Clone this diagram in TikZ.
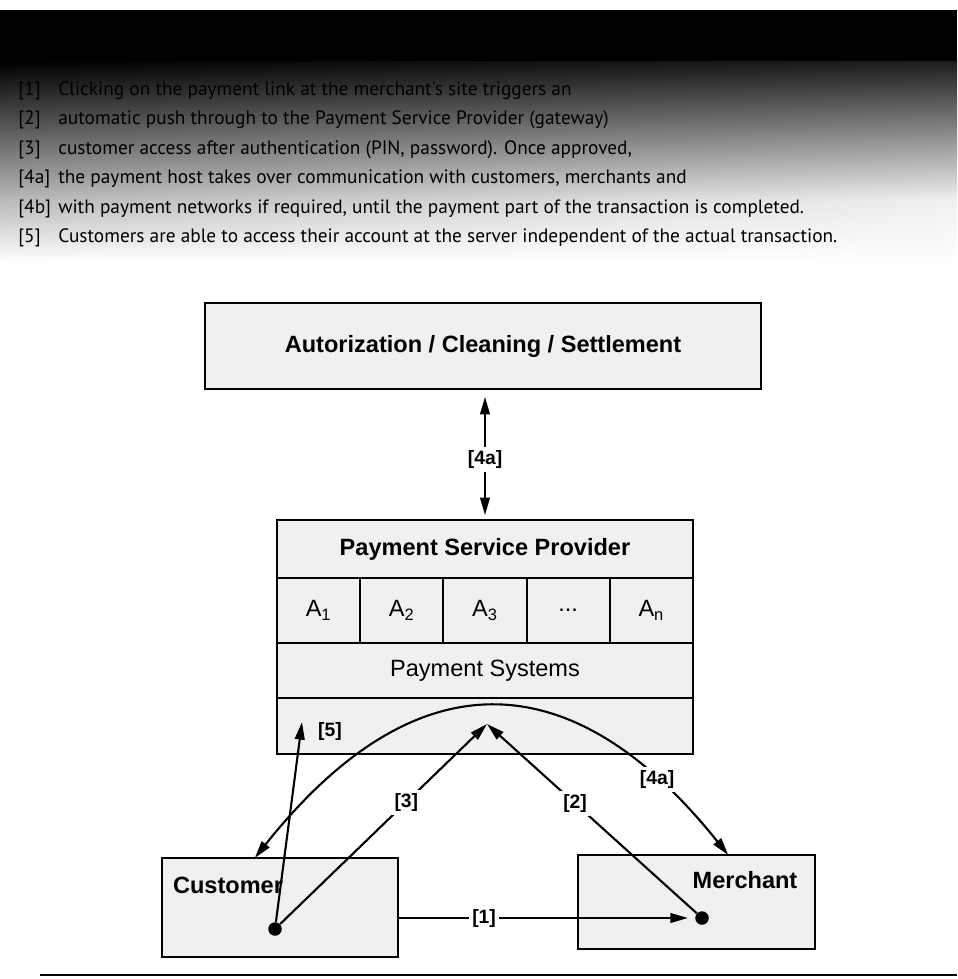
\documentclass[tikz,border=0pt]{standalone}
\usepackage{fontspec}
\setmainfont{Liberation Sans}
\newfontfamily\notefont{PT Sans}
\usetikzlibrary{positioning,arrows.meta,shadings}

\tikzset{
  panel/.style={draw, line width=1.1pt, fill=gray!12, inner sep=0pt, outer sep=0pt,
    font=\fontsize{13.4}{16}\selectfont},
  boldpanel/.style={panel, font=\bfseries\fontsize{13.4}{16}\selectfont},
  slot/.style={panel, minimum width=1.664cm, minimum height=1.3cm},
  lbl/.style={font=\bfseries\fontsize{11}{13}\selectfont, fill=white, inner sep=2pt},
  arr/.style={line width=1.2pt, ->},
  blob/.style={circle, fill=black, minimum size=0.27cm, inner sep=0pt},
  noteline/.style={font=\notefont\fontsize{11}{13}\selectfont, inner sep=0pt, anchor=base west},
}

\begin{document}
\begin{tikzpicture}[x=0.02cm, y=-0.02cm, >={Triangle[length=10pt,width=5.5pt]}]
\useasboundingbox (0,0) rectangle (957,979);

% dark banner with the notes
\fill[black] (0,10) rectangle (957,62);
\shade[upper left=black, upper right=black!88, lower left=gray!55, lower right=gray!12]
  (0,62) rectangle (957,200);
\shade[upper left=gray!55, upper right=gray!12, lower left=white, lower right=white]
  (0,200) rectangle (957,262);
\foreach \tag/\txt [count=\i] in {
  {[1]}/{Clicking on the payment link at the merchant's site triggers an},
  {[2]}/{automatic push through to the Payment Service Provider (gateway)},
  {[3]}/{customer access after authentication (PIN, password). Once approved,},
  {[4a]}/{the payment host takes over communication with customers, merchants and},
  {[4b]}/{with payment networks if required, until the payment part of the transaction is completed.},
  {[5]}/{Customers are able to access their account at the server independent of the actual transaction.}}
{
  \node[noteline] (tag\i) at (18,66+29.5*\i) {\tag};
  \node[noteline] (note\i) at (58,66+29.5*\i) {\txt};
}

% boxes
\node[boldpanel, minimum width=11.14cm, minimum height=1.72cm] (auth) at (483,346)
  {Autorization / Cleaning / Settlement};
\node[boldpanel, minimum width=8.32cm, minimum height=1.16cm] (psp) at (485,549)
  {Payment Service Provider};
\node[slot, below right=0pt of psp.south west] (a1) {A\textsubscript{1}};
\node[slot, right=0pt of a1] (a2) {A\textsubscript{2}};
\node[slot, right=0pt of a2] (a3) {A\textsubscript{3}};
\node[slot, right=0pt of a3] (a4) {...};
\node[slot, right=0pt of a4] (an) {A\textsubscript{n}};
\node[panel, minimum width=8.32cm, minimum height=1.1cm, below right=0pt of a1.south west] (sys)
  {Payment Systems};
\node[panel, minimum width=8.32cm, minimum height=1.12cm, below=0pt of sys] (base) {};

\node[panel, minimum width=4.72cm, minimum height=1.98cm] (cust) at (280,907.5) {};
\node[font=\bfseries\fontsize{13.4}{16}\selectfont] (custName) at (228,885) {Customer};
\node[panel, minimum width=4.74cm, minimum height=1.88cm] (merch) at (696.5,902) {};
\node[font=\bfseries\fontsize{13.4}{16}\selectfont] (merchName) at (745,880) {Merchant};

\node[blob] (cdot) at (275,929) {};
\node[blob] (mdot) at (702,918) {};
\coordinate (hub) at (487,724);
\coordinate (custUp) at (302,722);

% connectors
\draw[arr, <->, shorten <=4.5pt, shorten >=2.8pt] (psp.north |- auth.south) -- node[lbl, pos=.54] {[4a]} (psp.north);
\draw[arr, shorten >=4pt] (cust.east |- mdot) -- node[lbl, pos=.29] {[1]} (mdot);
\draw[arr] (cdot) -- node[lbl, pos=.61] {[3]} (hub);
\draw[arr] (mdot) -- node[lbl, pos=.58] {[2]} (hub);
\draw[arr] (cdot) -- (custUp);
\node[lbl, fill=none] (tag5b) at (330,731) {[5]};
\draw[arr, <->] (cust.117) .. controls (413,659) and (570,657) .. (merch.56) node[lbl, pos=.85] {[4a]};

\draw[line width=1.6pt] (40,975) -- (957,975);
\end{tikzpicture}
\end{document}
